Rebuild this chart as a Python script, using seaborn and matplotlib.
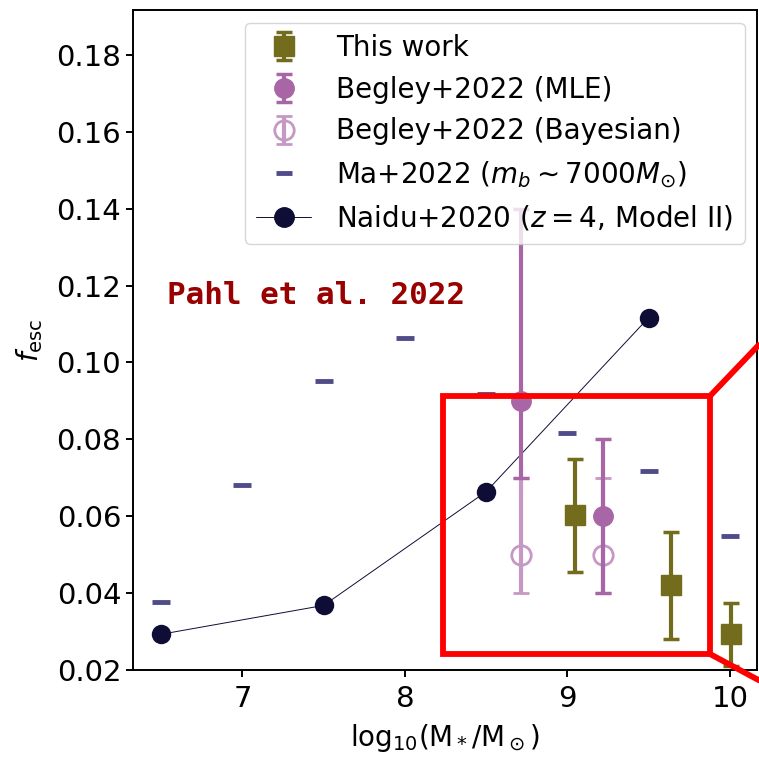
import matplotlib
matplotlib.use("Agg")
import matplotlib.pyplot as plt
from matplotlib.patches import Rectangle
from matplotlib.lines import Line2D
import seaborn as sns

# --- data -----------------------------------------------------------------
# This work: stacked escape fractions in stellar-mass bins
this_mass = [9.045, 9.635, 10.004]
this_fesc = [0.0603, 0.0421, 0.0294]
this_err_lo = [0.0148, 0.0140, 0.0084]
this_err_hi = [0.0145, 0.0137, 0.0080]

# Begley+2022
begley_mass = [8.713, 9.217]
begley_mle = [0.09, 0.06]
begley_mle_lo = [0.02, 0.02]
begley_mle_hi = [0.05, 0.02]
begley_bayes = [0.05, 0.05]
begley_bayes_lo = [0.01, 0.01]
begley_bayes_hi = [0.02, 0.02]

# Ma+2022 simulation (m_b ~ 7000 Msun)
ma_mass = [6.5, 7.0, 7.5, 8.0, 8.5, 9.0, 9.5, 10.0]
ma_fesc = [0.0377, 0.0680, 0.0953, 0.1065, 0.0917, 0.0816, 0.0719, 0.0548]

# Naidu+2020 (z = 4, Model II)
naidu_mass = [6.5, 7.5, 8.5, 9.5]
naidu_fesc = [0.0293, 0.0368, 0.0664, 0.1117]

# zoom region and connector targets for the inset
zoom_x = (8.233, 9.875)
zoom_y = (0.0242, 0.0912)
conn_upper = (10.25, 0.1078)
conn_lower = (10.25, 0.0157)

# --- style ----------------------------------------------------------------
sns.set_theme(style="ticks")
plt.rcParams.update({
    "font.family": ["DejaVu Sans"],
    "axes.linewidth": 1.4,
    "xtick.major.width": 1.4,
    "ytick.major.width": 1.4,
    "xtick.major.size": 5,
    "ytick.major.size": 5,
    "xtick.major.pad": 6,
    "xtick.labelsize": 21,
    "ytick.labelsize": 21,
    "axes.edgecolor": "black",
    "xtick.color": "black",
    "ytick.color": "black",
    "text.color": "black",
    "axes.labelcolor": "black",
    "mathtext.fontset": "dejavusans",
})

c_this = "#746c1d"
c_mle = "#a866a6"
c_bayes = "#c698c4"
c_ma = "#4f4c8a"
c_naidu = "#0e0d36"

fig = plt.figure(figsize=(7.59, 7.59), dpi=100)
ax = fig.add_axes([133 / 759, 1 - 670 / 759, (757 - 133) / 759, (670 - 10) / 759])

# Naidu+2020 model curve
sns.lineplot(x=naidu_mass, y=naidu_fesc, ax=ax, color=c_naidu, lw=0.7,
             marker="o", markersize=14, markeredgecolor=c_naidu,
             markeredgewidth=0, zorder=3)

# Ma+2022 simulation points
sns.scatterplot(x=ma_mass, y=ma_fesc, ax=ax, color=c_ma, marker="_",
                s=150, linewidth=3.5, zorder=3)

eb_kw = dict(elinewidth=3, capsize=6, capthick=2.5, markersize=14, linestyle="none")

bayes = ax.errorbar(begley_mass, begley_bayes, yerr=[begley_bayes_lo, begley_bayes_hi],
                    fmt="o", color=c_bayes, mfc="none", mec=c_bayes, mew=2,
                    zorder=4, **eb_kw)
mle = ax.errorbar(begley_mass, begley_mle, yerr=[begley_mle_lo, begley_mle_hi],
                  fmt="o", color=c_mle, mec=c_mle, zorder=5, **eb_kw)
this = ax.errorbar(this_mass, this_fesc, yerr=[this_err_lo, this_err_hi],
                   fmt="s", color=c_this, mec=c_this, zorder=6, **eb_kw)

# inset indicator box with connector lines
ax.add_patch(Rectangle((zoom_x[0], zoom_y[0]), zoom_x[1] - zoom_x[0], zoom_y[1] - zoom_y[0],
                       fill=False, ec="red", lw=4.2, zorder=8))
ax.plot([zoom_x[1], conn_upper[0]], [zoom_y[1], conn_upper[1]], color="red", lw=4.2,
        clip_on=False, zorder=8, solid_capstyle="butt")
ax.plot([zoom_x[1], conn_lower[0]], [zoom_y[0], conn_lower[1]], color="red", lw=4.2,
        clip_on=False, zorder=8, solid_capstyle="butt")

ax.text(6.535, 0.1175, "Pahl et al. 2022", family="DejaVu Sans Mono", weight="bold",
        color="#990000", fontsize=22.3, va="center", ha="left")

ax.set_xlim(6.327, 10.166)
ax.set_ylim(0.02, 0.1917)
ax.set_xticks([7, 8, 9, 10])
ax.set_yticks([0.02, 0.04, 0.06, 0.08, 0.10, 0.12, 0.14, 0.16, 0.18])
ax.yaxis.set_major_formatter(matplotlib.ticker.FormatStrFormatter("%.2f"))
ax.set_xlabel(r"log$_{10}$(M$_*$/M$_\odot$)", fontsize=20, labelpad=6)
ax.set_ylabel(r"$f_{\rm esc}$", fontsize=20, labelpad=8)

ma_handle = Line2D([], [], color=c_ma, linestyle="none", marker="_",
                   markersize=12, markeredgewidth=3.5)
naidu_handle = Line2D([], [], color=c_naidu, lw=0.7, marker="o", markersize=14)
leg = ax.legend(
    handles=[this, mle, bayes, ma_handle, naidu_handle],
    labels=["This work", "Begley+2022 (MLE)", "Begley+2022 (Bayesian)",
            r"Ma+2022 ($m_b \sim 7000M_{\odot}$)", r"Naidu+2020 ($z=4$, Model II)"],
    loc="upper right", fontsize=20, frameon=True, framealpha=0.8,
    labelspacing=0.5, borderaxespad=0.45, handletextpad=0.9,
)
leg.get_frame().set_edgecolor("#cccccc")
leg.set_zorder(7)

fig.savefig("out.png", dpi=100)
